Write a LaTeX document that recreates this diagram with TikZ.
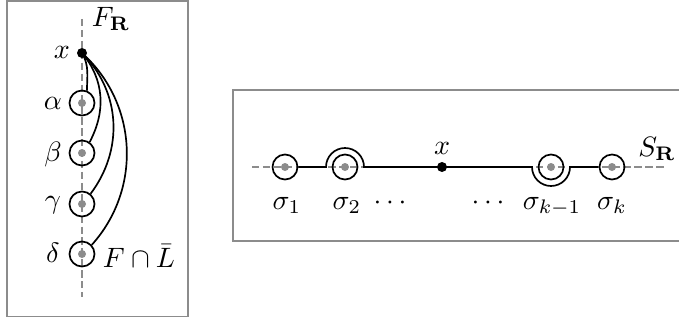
\documentclass[tikz,border=0pt]{standalone}
\usetikzlibrary{calc}
\begin{document}
\begin{tikzpicture}[x=0.357pt,y=0.357pt,
  frame/.style={draw=black!45,line width=0.7pt},
  axis/.style={draw=black!45,dash pattern=on 2.6pt off 1.3pt,line width=0.55pt},
  ring/.style={circle,draw=black,line width=0.6pt,minimum size=25*0.357pt,inner sep=0pt},
  gdot/.style={circle,fill=black!45,minimum size=8*0.357pt,inner sep=0pt},
  bdot/.style={circle,fill=black,minimum size=10*0.357pt,inner sep=0pt},
  link/.style={draw=black,line width=0.6pt},
  lab/.style={inner sep=0pt}]
\useasboundingbox (0,0) rectangle (679,325);
% frames
\draw[frame] (7,8.5) rectangle (188,324);
\draw[frame] (233,84) rectangle (690,235);
% left
\coordinate (vt) at (82,306);
\coordinate (vb) at (82,28);
\draw[axis] (vt) -- (vb);
\node[ring] (a) at (82,222) {};
\node[ring] (b) at (82,172) {};
\node[ring] (c) at (82,121) {};
\node[ring] (d) at (82,71) {};
\foreach \n in {a,b,c,d} \node[gdot] at (\n) {};
\node[bdot] (x) at (82,272) {};
\draw[link] (x.center) to[out=-60,in=90,looseness=1] (a.68);
\draw[link] (x.center) to[out=-50,in=62,looseness=1] (b.55);
\draw[link] (x.center) to[out=-45,in=53,looseness=1] (c.50);
\draw[link] (x.center) to[out=-42,in=48,looseness=1] (d.43);
\node[lab] (xl) at (62,273) {$x$};
\node[lab] (al) at (53,222) {$\alpha$};
\node[lab] (bl) at (53,171) {$\beta$};
\node[lab] (cl) at (53,120) {$\gamma$};
\node[lab] (dl) at (53,72) {$\delta$};
\node[lab] (fl) at (139,69) {$F\cap\bar L$};
\node[lab] (fr) at (111,306) {$F_{\mathbf{R}}$};
% right
\coordinate (hl) at (252,158);
\coordinate (hr) at (667,158);
\draw[axis] (hl) -- (hr);
\node[ring] (s1) at (285,158) {};
\node[ring] (s2) at (345,158) {};
\node[ring] (sk1) at (551,158) {};
\node[ring] (sk) at (612,158) {};
\foreach \n in {s1,s2,sk1,sk} \node[gdot] at (\n) {};
\node[bdot] (xs) at (442,158) {};
\draw[link] (s1.east) -- ($(s2.center)+(-19,0)$) arc[start angle=180,end angle=0,radius=19*0.357pt]
  -- (xs.center) -- ($(sk1.center)+(-19,0)$) arc[start angle=180,end angle=360,radius=19*0.357pt]
  -- (sk.west);
\node[lab,anchor=base] (l1) at (287,116) {$\sigma_1$};
\node[lab,anchor=base] (l2) at (347,116) {$\sigma_2$};
\node[lab,anchor=base] (d1) at (390,116) {$\cdots$};
\node[lab,anchor=base] (d2) at (488,116) {$\cdots$};
\node[lab,anchor=base] (l3) at (552,116) {$\sigma_{k-1}$};
\node[lab,anchor=base] (l4) at (612,116) {$\sigma_k$};
\node[lab] (xsl) at (442,177) {$x$};
\node[lab] (sr) at (657,176) {$S_{\mathbf{R}}$};
\end{tikzpicture}
\end{document}
